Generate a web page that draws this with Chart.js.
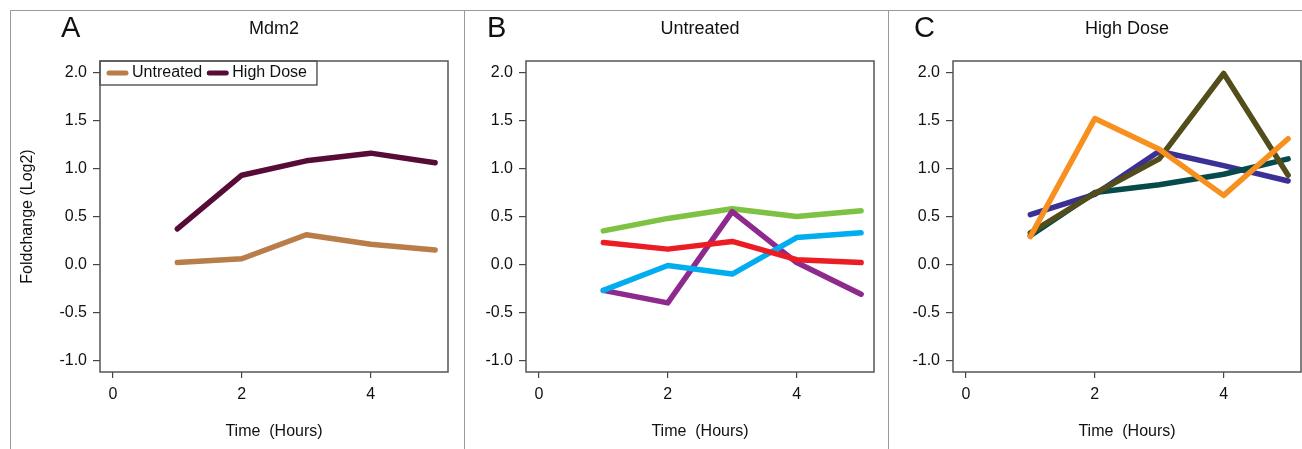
<!doctype html>
<html>
<head>
<meta charset="utf-8">
<title>Mdm2 Foldchange</title>
<script src="https://cdn.jsdelivr.net/npm/chart.js@4.4.1/dist/chart.umd.min.js"></script>
<style>
body { margin: 0; background: #fff; width: 1302px; height: 449px; overflow: hidden; position: relative; }
canvas { position: absolute; top: 0; }
.rule { position: absolute; background: #9a9a9a; }
</style>
</head>
<body>
	<canvas id="panelA" width="464" height="449" style="left:0px"></canvas>
	<canvas id="panelB" width="424" height="449" style="left:464px"></canvas>
	<canvas id="panelC" width="414" height="449" style="left:888px"></canvas>
	<div class="rule" style="left:10px;top:10px;width:1292px;height:1px"></div>
	<div class="rule" style="left:10px;top:10px;width:1px;height:439px"></div>
	<div class="rule" style="left:464px;top:10px;width:1px;height:439px"></div>
	<div class="rule" style="left:888px;top:10px;width:1px;height:439px"></div>

	<script>
	// time points (hours)
	var hours = [1, 2, 3, 4, 5];

	// panel A - Mdm2
	var mdm2Untreated = [0.02, 0.06, 0.31, 0.21, 0.15];
	var mdm2HighDose  = [0.37, 0.93, 1.08, 1.16, 1.06];

	// panel B - untreated
	var untGreen  = [0.35, 0.48, 0.58, 0.50, 0.56];
	var untRed    = [0.23, 0.16, 0.24, 0.05, 0.02];
	var untCyan   = [-0.27, -0.01, -0.10, 0.28, 0.33];
	var untPurple = [-0.27, -0.40, 0.55, 0.02, -0.31];

	// panel C - high dose
	var hiBlue   = [0.52, 0.73, 1.18, 1.03, 0.87];
	var hiTeal   = [0.30, 0.75, 0.83, 0.94, 1.10];
	var hiOlive  = [0.33, 0.74, 1.10, 1.99, 0.93];
	var hiOrange = [0.29, 1.52, 1.20, 0.72, 1.31];

	var yTicks = [-1.0, -0.5, 0.0, 0.5, 1.0, 1.5, 2.0];
	var xTicks = [0, 2, 4];

	var FONT = '"Liberation Sans", Arial, sans-serif';

	function pts(vals) {
		return vals.map(function(v, i) { return {x: hours[i], y: v}; });
	}

	function line(label, vals, col) {
		return {
			label: label,
			data: pts(vals),
			borderColor: col,
			backgroundColor: col,
			borderWidth: 5.5,
			pointRadius: 0,
			tension: 0,
			borderCapStyle: 'round',
			borderJoinStyle: 'round',
			fill: false
		};
	}

	// box, panel letter and the small in-plot legend
	var panelDecor = {
		id: 'panelDecor',
		afterDatasetsDraw: function(chart, args, opts) {
			var ctx = chart.ctx, a = chart.chartArea;
			ctx.save();
			if (opts.legend) {
				ctx.font = '16px ' + FONT;
				ctx.textBaseline = 'middle';
				ctx.textAlign = 'left';
				var x = a.left + 7, y = a.top + 12;
				var items = [];
				chart.data.datasets.forEach(function(ds) {
					items.push({x: x, ds: ds});
					x += 21 + 4 + ctx.measureText(ds.label).width + 5;
				});
				var w = x - a.left + 5;
				ctx.fillStyle = '#fff';
				ctx.fillRect(a.left, a.top, w, 24);
				ctx.strokeStyle = '#333';
				ctx.lineWidth = 1.2;
				ctx.strokeRect(a.left, a.top, w, 24);
				items.forEach(function(it) {
					ctx.strokeStyle = it.ds.borderColor;
					ctx.lineWidth = 5;
					ctx.lineCap = 'round';
					ctx.beginPath();
					ctx.moveTo(it.x + 2, y);
					ctx.lineTo(it.x + 19, y);
					ctx.stroke();
					ctx.fillStyle = '#111';
					ctx.fillText(it.ds.label, it.x + 25, y);
				});
			}
			ctx.strokeStyle = '#555';
			ctx.lineWidth = 1.5;
			ctx.strokeRect(a.left, a.top, a.right - a.left, a.bottom - a.top);
			ctx.fillStyle = '#111';
			ctx.font = '29px ' + FONT;
			ctx.textBaseline = 'middle';
			ctx.textAlign = 'left';
			ctx.fillText(opts.letter, a.left - 39, 29);
			ctx.restore();
		}
	};

	function makePanel(id, title, letter, datasets, yWidth, padRight, yTitle, legend) {
		var ctx = document.getElementById(id).getContext('2d');
		return new Chart(ctx, {
			type: 'line',
			data: {datasets: datasets},
			plugins: [panelDecor],
			options: {
				responsive: false,
				animation: false,
				layout: {padding: {left: 0, right: padRight, top: 0, bottom: 0}},
				plugins: {
					legend: {display: false},
					tooltip: {enabled: false},
					title: {
						display: true,
						text: title,
						fullSize: false,
						color: '#111',
						font: {family: FONT, size: 18, weight: 'normal'},
						padding: {top: 18, bottom: 21.4}
					},
					panelDecor: {letter: letter, legend: legend}
				},
				scales: {
					x: {
						type: 'linear',
						min: -0.2,
						max: 5.2,
						afterFit: function(s) { s.height = 77; },
						afterBuildTicks: function(s) { s.ticks = xTicks.map(function(v) { return {value: v}; }); },
						border: {display: false},
						grid: {drawOnChartArea: false, drawTicks: true, tickLength: 6, color: '#444', lineWidth: 1.2},
						ticks: {color: '#111', font: {family: FONT, size: 16}, padding: 7, maxRotation: 0},
						title: {display: true, text: 'Time  (Hours)', color: '#111', font: {family: FONT, size: 16}, padding: {top: 0, bottom: 7.4}}
					},
					y: {
						type: 'linear',
						min: -1.12,
						max: 2.12,
						afterFit: function(s) { s.width = yWidth; },
						afterBuildTicks: function(s) { s.ticks = yTicks.map(function(v) { return {value: v}; }); },
						border: {display: false},
						grid: {drawOnChartArea: false, drawTicks: true, tickLength: 7, color: '#444', lineWidth: 1.2},
						ticks: {
							color: '#111',
							font: {family: FONT, size: 16},
							padding: 6,
							callback: function(v) { return v.toFixed(1); }
						},
						title: {display: !!yTitle, text: yTitle || '', color: '#111', font: {family: FONT, size: 16}, padding: {top: 18.4, bottom: 0}}
					}
				}
			}
		});
	}

	makePanel('panelA', 'Mdm2', 'A', [
		line('Untreated', mdm2Untreated, '#b97d4a'),
		line('High Dose', mdm2HighDose, '#560c36')
	], 100, 16, 'Foldchange (Log2)', true);

	makePanel('panelB', 'Untreated', 'B', [
		line('Red', untRed, '#ec1c24'),
		line('Cyan', untCyan, '#00aeef'),
		line('Purple', untPurple, '#8e2a8e'),
		line('Green', untGreen, '#7dc242')
	], 62, 14, null, false);

	makePanel('panelC', 'High Dose', 'C', [
		line('Orange', hiOrange, '#f7901e'),
		line('Olive', hiOlive, '#524d1a'),
		line('Teal', hiTeal, '#074a4a'),
		line('Blue', hiBlue, '#3a3096')
	], 65, 1, null, false);
	</script>
</body>
</html>
